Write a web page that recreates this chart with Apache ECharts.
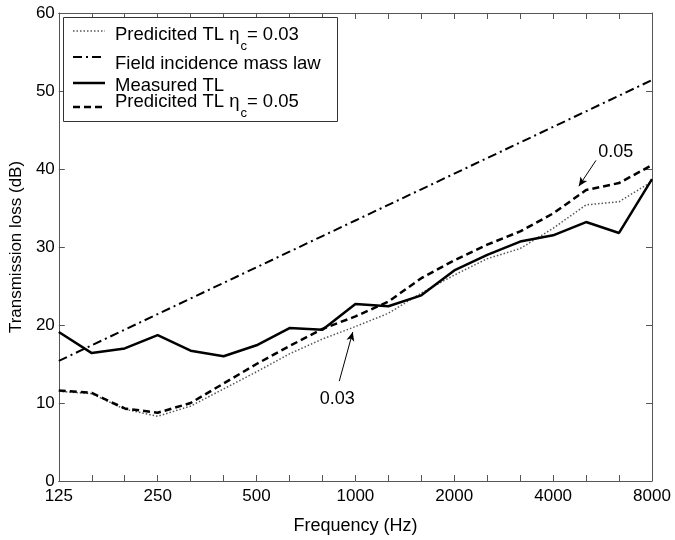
<!DOCTYPE html>
<html><head><meta charset="utf-8">
<script src="https://cdn.jsdelivr.net/npm/echarts@6/dist/echarts.min.js"></script>
<style>html,body{margin:0;padding:0;background:#fff}#c{width:675px;height:540px}</style>
</head><body><div id="c"></div>
<script>
// third-octave band centre frequencies (Hz)
const freqs = ['125','160','200','250','315','400','500','630','800','1000','1250','1600','2000','2500','3150','4000','5000','6300','8000'];
const tickLabels = ['125','250','500','1000','2000','4000','8000'];
const yTicks = [0,10,20,30,40,50,60];
const measured = [19.1,16.4,17.0,18.7,16.7,16.0,17.4,19.6,19.4,22.7,22.4,23.8,27.0,29.0,30.7,31.5,33.2,31.8,38.7];
const pred05 = [11.6,11.3,9.3,8.75,10.0,12.5,15.0,17.3,19.5,21.1,23.0,26.0,28.3,30.3,32.0,34.3,37.3,38.2,40.5];
const pred03 = [11.5,11.2,9.2,8.3,9.6,11.8,14.0,16.3,18.2,19.8,21.5,24.1,26.4,28.5,29.8,32.4,35.4,35.8,38.4];
const massLaw = [15.4,17.4,19.4,21.4,23.4,25.4,27.4,29.4,31.4,33.4,35.4,37.4,39.4,41.4,43.4,45.4,47.4,49.4,51.4];
const names = ['Predicited TL ηc= 0.03','Field incidence mass law','Measured TL','Predicited TL ηc= 0.05'];
// annotations: [label, text position (band index, dB), arrow start, arrow end]
const annotations = [
  {text:'0.05', at:[16.9,42.2], from:[16.3,41.1], to:[15.78,37.8]},
  {text:'0.03', at:[8.45,10.5], from:[8.51,12.8], to:[8.92,19.1]}
];

const FONT = '"Liberation Sans", Arial, sans-serif';
const pairs = a => a.map((v,i)=>[i,v]);
const axisCol = '#555';

const chart = echarts.init(document.getElementById('c'), null, {renderer:'canvas'});
const xBase = {
  type:'value', min:0, max:freqs.length-1, interval:3,
  axisLine:{show:true, onZero:false, lineStyle:{color:axisCol,width:1}},
  axisTick:{show:true, inside:true, length:6, lineStyle:{color:axisCol}},
  minorTick:{show:true, splitNumber:3, length:6, lineStyle:{color:axisCol}},
  splitLine:{show:false}
};
const yBase = {
  type:'value', min:0, max:60, interval:10,
  axisLine:{show:true, onZero:false, lineStyle:{color:axisCol,width:1}},
  axisTick:{show:true, inside:true, length:6, lineStyle:{color:axisCol}},
  splitLine:{show:false}
};
const legendRows = [
  {lineY:31, textY:35, type:[1.5,2], w:1.5, col:'#555', label:'{a|Predicited TL η}{s|c}{a|= 0.03}'},
  {lineY:57, textY:63.5, type:[9,4,2,4], w:2, col:'#000', label:'{a|Field incidence mass law}'},
  {lineY:83, textY:85.5, type:'solid', w:2.5, col:'#000', label:'{a|Measured TL}'},
  {lineY:107, textY:102, type:[7,4], w:2.5, col:'#000', label:'{a|Predicited TL η}{s|c}{a|= 0.05}'}
];
const legendEls = [{type:'rect', shape:{x:63.5,y:17.5,width:274,height:104}, style:{fill:'#fff', stroke:'#333', lineWidth:1}, z:100}];
legendRows.forEach(r=>{
  legendEls.push({type:'line', shape:{x1:73,y1:r.lineY,x2:105,y2:r.lineY}, style:{stroke:r.col, lineWidth:r.w, lineDash:r.type==='solid'?null:r.type}, z:101});
  legendEls.push({type:'text', x:115, y:r.textY, style:{text:r.label, verticalAlign:'middle', align:'left',
    rich:{a:{fontSize:18.5, fontFamily:FONT, fill:'#000', lineHeight:20}, s:{fontSize:13, fontFamily:FONT, fill:'#000', padding:[23,0,0,1]}}}, z:101});
});

chart.setOption({
  animation:false,
  backgroundColor:'#fff',
  grid:{left:57, right:23, top:13, bottom:59},
  xAxis:[
    Object.assign({}, xBase, {position:'bottom',
      name:'Frequency (Hz)', nameLocation:'middle', nameGap:36,
      nameTextStyle:{fontSize:18, fontFamily:FONT, color:'#000'},
      axisLabel:{show:true, margin:7, fontSize:17, fontFamily:FONT, color:'#000', formatter:v=>tickLabels[Math.round(v/3)]}}),
    Object.assign({}, xBase, {position:'top', axisLabel:{show:false}})
  ],
  yAxis:[
    Object.assign({}, yBase, {position:'left',
      name:'Transmission loss (dB)', nameLocation:'middle', nameGap:29,
      nameTextStyle:{fontSize:17, fontFamily:FONT, color:'#000'},
      axisLabel:{show:true, margin:4, fontSize:17, fontFamily:FONT, color:'#000', formatter:v=>String(v)}}),
    Object.assign({}, yBase, {position:'right', axisLabel:{show:false}})
  ],
  series:[
    {name:names[0], type:'line', data:pairs(pred03), symbol:'none', lineStyle:{color:'#555', width:1.5, type:[1.5,2]}, z:2},
    {name:names[1], type:'line', data:pairs(massLaw), symbol:'none', lineStyle:{color:'#000', width:2, type:[9,4,2,4]}, z:2},
    {name:names[2], type:'line', data:pairs(measured), symbol:'none', lineStyle:{color:'#000', width:2.5, type:'solid'}, z:3,
      markLine:{silent:true, symbol:['none','arrow'], symbolSize:[6,9], animation:false,
        lineStyle:{type:'solid', width:1, color:'#000'}, label:{show:false},
        data: annotations.map(a=>[{coord:a.from},{coord:a.to}])},
      markPoint:{silent:true, symbol:'circle', symbolSize:1, itemStyle:{color:'rgba(0,0,0,0)'},
        label:{show:true, position:'inside', formatter:p=>p.name, fontSize:18, fontFamily:FONT, color:'#000'},
        data: annotations.map(a=>({name:a.text, coord:a.at}))}},
    {name:names[3], type:'line', data:pairs(pred05), symbol:'none', lineStyle:{color:'#000', width:2.5, type:[7,4]}, z:2}
  ],
  graphic: legendEls
});
</script></body></html>
